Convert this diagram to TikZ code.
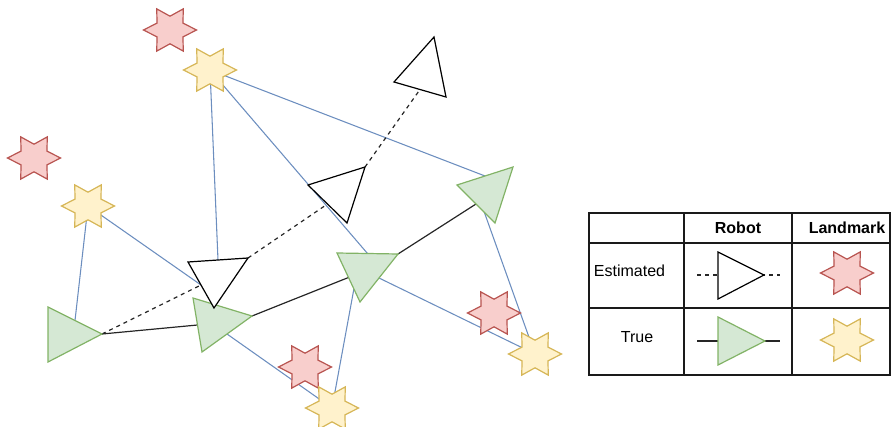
\documentclass[tikz,border=0pt]{standalone}
\usepackage{fontspec}
\setmainfont{Liberation Sans}
\usetikzlibrary{calc}

\definecolor{truefill}{HTML}{D5E8D4}
\definecolor{truedraw}{HTML}{82B366}
\definecolor{estfill}{HTML}{F8CECC}
\definecolor{estdraw}{HTML}{B85450}
\definecolor{lmfill}{HTML}{FFF2CC}
\definecolor{lmdraw}{HTML}{D6B656}
\definecolor{obsline}{HTML}{6C8EBF}
\definecolor{gridline}{HTML}{1A1A1A}

\tikzset{
  hexstar/.pic={
    \path[pic actions, yscale=0.92]
      (0:26.5) -- (30:15) -- (60:26.5) -- (90:15) -- (120:26.5) -- (150:15) --
      (180:26.5) -- (210:15) -- (240:26.5) -- (270:15) -- (300:26.5) -- (330:15) -- cycle;
  },
  estlm/.style={draw=estdraw, fill=estfill, line width=0.9pt, line join=miter},
  truelm/.style={draw=lmdraw, fill=lmfill, line width=0.9pt, line join=miter},
  estrobot/.style={draw=black, fill=white, line width=0.9pt, line join=miter},
  truerobot/.style={draw=truedraw, fill=truefill, line width=0.9pt, line join=miter},
  obs/.style={draw=obsline, line width=0.8pt},
  odom/.style={draw=black!85, line width=0.9pt},
  odomest/.style={odom, dash pattern=on 3pt off 3pt},
  grid/.style={draw=gridline, line width=0.8pt},
  hdr/.style={font=\bfseries\fontsize{12}{14}\selectfont, inner sep=0pt},
  lbl/.style={font=\fontsize{12}{14}\selectfont, inner sep=0pt},
}

\begin{document}
\begin{tikzpicture}[x=0.75pt, y=-0.75pt]
  \useasboundingbox (0,0) rectangle (891,427);

  % ---- landmark positions ----
  \coordinate (r1) at (170,30);
  \coordinate (y1) at (210,70);
  \coordinate (r2) at (34,158);
  \coordinate (y2) at (88,206);
  \coordinate (r3) at (305,367);
  \coordinate (y3) at (332,408);
  \coordinate (r4) at (494,313);
  \coordinate (y4) at (535,354);

  % ---- true robot poses (base corners a,b and tip t) ----
  \coordinate (g1a) at (48,307);  \coordinate (g1b) at (48,362);  \coordinate (g1t) at (102,334);
  \coordinate (g2a) at (193,298); \coordinate (g2b) at (202,352); \coordinate (g2t) at (252,316);
  \coordinate (g3a) at (337,253); \coordinate (g3b) at (360,302); \coordinate (g3t) at (398,254);
  \coordinate (g4a) at (457,185); \coordinate (g4b) at (495,223); \coordinate (g4t) at (513,167);

  % ---- estimated robot poses ----
  \coordinate (e1a) at (188,262); \coordinate (e1b) at (214,308); \coordinate (e1t) at (248,258);
  \coordinate (e2a) at (308,185); \coordinate (e2b) at (347,223); \coordinate (e2t) at (365,167);
  \coordinate (e3a) at (394,82);  \coordinate (e3b) at (446,97);  \coordinate (e3t) at (434,37);

  % attachment points on the triangle edges
  \coordinate (g1base) at ($(g1a)!0.5!(g1b)$);
  \coordinate (g1top)  at ($(g1a)!0.5!(g1t)$);
  \coordinate (g2base) at ($(g2a)!0.5!(g2b)$);
  \coordinate (g2low)  at ($(g2b)!0.5!(g2t)$);
  \coordinate (g3base) at ($(g3a)!0.5!(g3b)$);
  \coordinate (g3top)  at ($(g3a)!0.5!(g3t)$);
  \coordinate (g3low)  at ($(g3b)!0.5!(g3t)$);
  \coordinate (g3mid)  at (357,272);
  \coordinate (g4base) at ($(g4a)!0.5!(g4b)$);
  \coordinate (g4top)  at ($(g4a)!0.5!(g4t)$);
  \coordinate (g4mid)  at (481,203);
  \coordinate (e1base) at ($(e1a)!0.5!(e1b)$);
  \coordinate (e1top)  at ($(e1a)!0.5!(e1t)$);
  \coordinate (e2base) at ($(e2a)!0.5!(e2b)$);
  \coordinate (e3base) at ($(e3a)!0.5!(e3b)$);

  % ---- observations ----
  \draw[obs] (y1) -- (e1top);
  \draw[obs] (y1) -- (g3top);
  \draw[obs] (y1) -- (g4top);
  \draw[obs] (y2) -- (g1top);
  \draw[obs] (y2) -- (e1base);
  \draw[obs] (g2low) -- (y3);
  \draw[obs] (g3mid) -- (y3);
  \draw[obs] (g3low) -- (y4);
  \draw[obs] (g4mid) -- (y4);

  % ---- odometry ----
  \draw[odom] (g1t) -- (g2base);
  \draw[odom] (g2t) -- (g3base);
  \draw[odom] (g3t) -- (g4base);
  \draw[odomest] (g1t) -- (e1base);
  \draw[odomest] (e1t) -- (e2base);
  \draw[odomest] (e2t) -- (e3base);

  % ---- robots ----
  \draw[truerobot] (g1a) -- (g1b) -- (g1t) -- cycle;
  \draw[truerobot] (g2a) -- (g2b) -- (g2t) -- cycle;
  \draw[truerobot] (g3a) -- (g3b) -- (g3t) -- cycle;
  \draw[truerobot] (g4a) -- (g4b) -- (g4t) -- cycle;
  \draw[estrobot] (e1a) -- (e1b) -- (e1t) -- cycle;
  \draw[estrobot] (e2a) -- (e2b) -- (e2t) -- cycle;
  \draw[estrobot] (e3a) -- (e3b) -- (e3t) -- cycle;

  % ---- landmarks ----
  \pic[estlm]  at (r1) {hexstar};
  \pic[truelm] at (y1) {hexstar};
  \pic[estlm]  at (r2) {hexstar};
  \pic[truelm] at (y2) {hexstar};
  \pic[estlm]  at (r3) {hexstar};
  \pic[truelm] at (y3) {hexstar};
  \pic[estlm]  at (r4) {hexstar};
  \pic[truelm] at (y4) {hexstar};

  % ---- legend table ----
  \coordinate (tl) at (589,213);
  \coordinate (br) at (890,375);
  \draw[grid] (tl) rectangle (br);
  \draw[grid] (684,213) -- (684,375);
  \draw[grid] (792,213) -- (792,375);
  \draw[grid] (589,243) -- (890,243);
  \draw[grid] (589,308) -- (890,308);

  \node[hdr] (hrobot) at (738,228) {Robot};
  \node[hdr] (hland)  at (847,228) {Landmark};
  \node[lbl] (lest)   at (629.5,271) {Estimated};
  \node[lbl] (ltrue)  at (637,337) {True};

  % legend: estimated robot
  \coordinate (le1) at (697,275);
  \coordinate (le2) at (780,275);
  \draw[odomest] (le1) -- (le2);
  \draw[estrobot] (718,252) -- (718,299) -- (764,275) -- cycle;

  % legend: true robot
  \coordinate (lt1) at (697,341);
  \coordinate (lt2) at (780,341);
  \draw[odom] (lt1) -- (lt2);
  \draw[truerobot] (718,317) -- (718,365) -- (765,341) -- cycle;

  % legend: landmarks
  \coordinate (lr) at (847,273);
  \coordinate (ly) at (847,340);
  \pic[estlm]  at (lr) {hexstar};
  \pic[truelm] at (ly) {hexstar};
\end{tikzpicture}
\end{document}
